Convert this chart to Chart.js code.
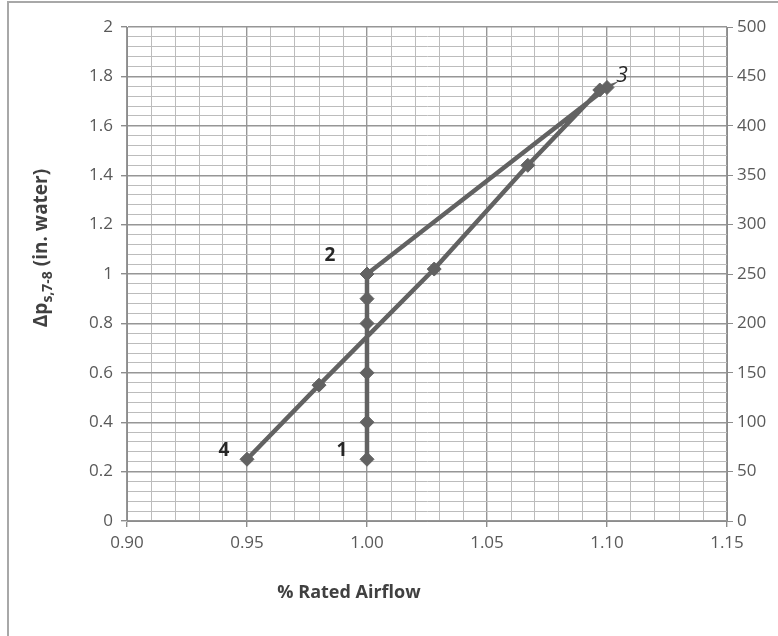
<!DOCTYPE html>
<html>
<head>
<meta charset="utf-8">
<script src="https://cdn.jsdelivr.net/npm/chart.js@4.4.1/dist/chart.umd.min.js"></script>
<style>
  body { margin: 0; background: #fff; }
  #wrap { width: 778px; height: 636px; }
</style>
</head>
<body>
<div id="wrap"><canvas id="myChart" width="778" height="636"></canvas></div>
<script>
// data: path 1 -> 2 -> 3 -> 4
const airflow = [1.00, 1.00, 1.00, 1.00, 1.00, 1.00, 1.10, 1.097, 1.067, 1.028, 0.98, 0.95];
const pressure = [0.25, 0.40, 0.60, 0.80, 0.90, 1.00, 1.755, 1.745, 1.44, 1.02, 0.55, 0.25];
const pointNames = ["1", "2", "3", "4"];
const namedIdx = [0, 5, 6, 11];

const xTickLabels = ["0.90", "0.95", "1.00", "1.05", "1.10", "1.15"];
const yTickLabels = ["0", "0.2", "0.4", "0.6", "0.8", "1", "1.2", "1.4", "1.6", "1.8", "2"];
const rightTickLabels = ["0", "50", "100", "150", "200", "250", "300", "350", "400", "450", "500"];

const lineColor = "#626262";
const font = "'Open Sans', 'Noto Sans', sans-serif";

function isMajorX(v) {
  return Math.abs(v / 0.05 - Math.round(v / 0.05)) < 1e-6;
}
function isMajorY(v) {
  return Math.abs(v / 0.2 - Math.round(v / 0.2)) < 1e-6;
}

let points = airflow.map((x, i) => ({ x: x, y: pressure[i] }));

const extras = {
  id: "extras",
  afterDraw(chart) {
    let ctx = chart.ctx;
    let xs = chart.scales.x;
    let ys = chart.scales.y;
    ctx.save();

    // outer frame (left + top edges)
    ctx.fillStyle = "#a8a8a8";
    ctx.fillRect(7, 1, 2, 635);
    ctx.fillRect(7, 1, 771, 2);

    // point labels
    const offs = [[-25, -9], [-37, -18], [15, -11], [-23, -9]];
    ctx.fillStyle = "#262626";
    ctx.textAlign = "center";
    ctx.textBaseline = "middle";
    namedIdx.forEach((idx, k) => {
      let px = xs.getPixelForValue(airflow[idx]) + offs[k][0];
      let py = ys.getPixelForValue(pressure[idx]) + offs[k][1];
      ctx.font = k == 2 ? "italic 21px " + font : "bold 19px " + font;
      ctx.fillText(pointNames[k], px, py);
    });

    // x title
    ctx.fillStyle = "#404040";
    ctx.font = "bold 18px " + font;
    ctx.fillText("% Rated Airflow", 349, 593);

    // y title with subscript
    ctx.translate(42, 248);
    ctx.rotate(-Math.PI / 2);
    let big = "bold 19px " + font;
    let small = "bold 14px " + font;
    ctx.font = big;
    let w1 = ctx.measureText("\u0394p").width;
    let w3 = ctx.measureText(" (in. water)").width;
    ctx.font = small;
    let w2 = ctx.measureText("s,7-8").width;
    let start = -(w1 + w2 + w3) / 2;
    ctx.textAlign = "left";
    ctx.font = big;
    ctx.fillText("\u0394p", start, 0);
    ctx.font = small;
    ctx.fillText("s,7-8", start + w1, 6);
    ctx.font = big;
    ctx.fillText(" (in. water)", start + w1 + w2, 0);
    ctx.restore();
  }
};

let ctx = document.getElementById("myChart");

let myChart = new Chart(ctx, {
  type: "scatter",
  data: {
    datasets: [
      {
        data: points,
        showLine: true,
        borderColor: lineColor,
        borderWidth: 4.5,
        backgroundColor: lineColor,
        pointStyle: "rectRot",
        pointRadius: 7,
        pointBorderWidth: 1,
        pointBorderColor: lineColor,
        tension: 0,
      },
    ],
  },
  options: {
    responsive: false,
    animation: false,
    layout: { padding: { top: 27, left: 0, right: 0, bottom: 0 } },
    plugins: {
      legend: { display: false },
      tooltip: { enabled: false },
    },
    scales: {
      x: {
        type: "linear",
        min: 0.9,
        max: 1.15,
        afterFit: (s) => { s.height = 115; },
        border: { color: "#8c8c8c", width: 1 },
        grid: {
          color: (c) => (c.tick && isMajorX(c.tick.value) ? "#969696" : "#bcbcbc"),
          lineWidth: (c) => (c.tick && isMajorX(c.tick.value) ? 1.4 : 1),
          tickColor: (c) => (c.tick && isMajorX(c.tick.value) ? "#8c8c8c" : "rgba(0,0,0,0)"),
          tickLength: 6,
        },
        ticks: {
          stepSize: 0.01,
          autoSkip: false,
          maxRotation: 0,
          padding: 6,
          color: "#595959",
          font: { family: font, size: 17 },
          callback: function (v) {
            let i = Math.round((v - 0.9) / 0.01);
            return i % 5 == 0 ? xTickLabels[i / 5] : "";
          },
        },
      },
      y: {
        position: "left",
        min: 0,
        max: 2,
        afterFit: (s) => { s.width = 127; },
        border: { color: "#8c8c8c", width: 1 },
        grid: {
          color: (c) => (c.tick && isMajorY(c.tick.value) ? "#969696" : "#bcbcbc"),
          lineWidth: (c) => (c.tick && isMajorY(c.tick.value) ? 1.4 : 1),
          tickColor: (c) => (c.tick && isMajorY(c.tick.value) ? "#8c8c8c" : "rgba(0,0,0,0)"),
          tickLength: 6,
        },
        ticks: {
          stepSize: 0.04,
          autoSkip: false,
          padding: 8,
          color: "#595959",
          font: { family: font, size: 17 },
          callback: function (v) {
            let i = Math.round(v / 0.04);
            return i % 5 == 0 ? yTickLabels[i / 5] : "";
          },
        },
      },
      y2: {
        position: "right",
        display: true,
        min: 0,
        max: 500,
        afterFit: (s) => { s.width = 51; },
        border: { color: "#8c8c8c", width: 1 },
        grid: {
          drawOnChartArea: false,
          tickColor: "#8c8c8c",
          tickLength: 6,
        },
        ticks: {
          stepSize: 50,
          autoSkip: false,
          padding: 4,
          color: "#595959",
          font: { family: font, size: 17 },
          callback: function (v) {
            return rightTickLabels[Math.round(v / 50)];
          },
        },
      },
    },
  },
  plugins: [extras],
});
</script>
</body>
</html>
